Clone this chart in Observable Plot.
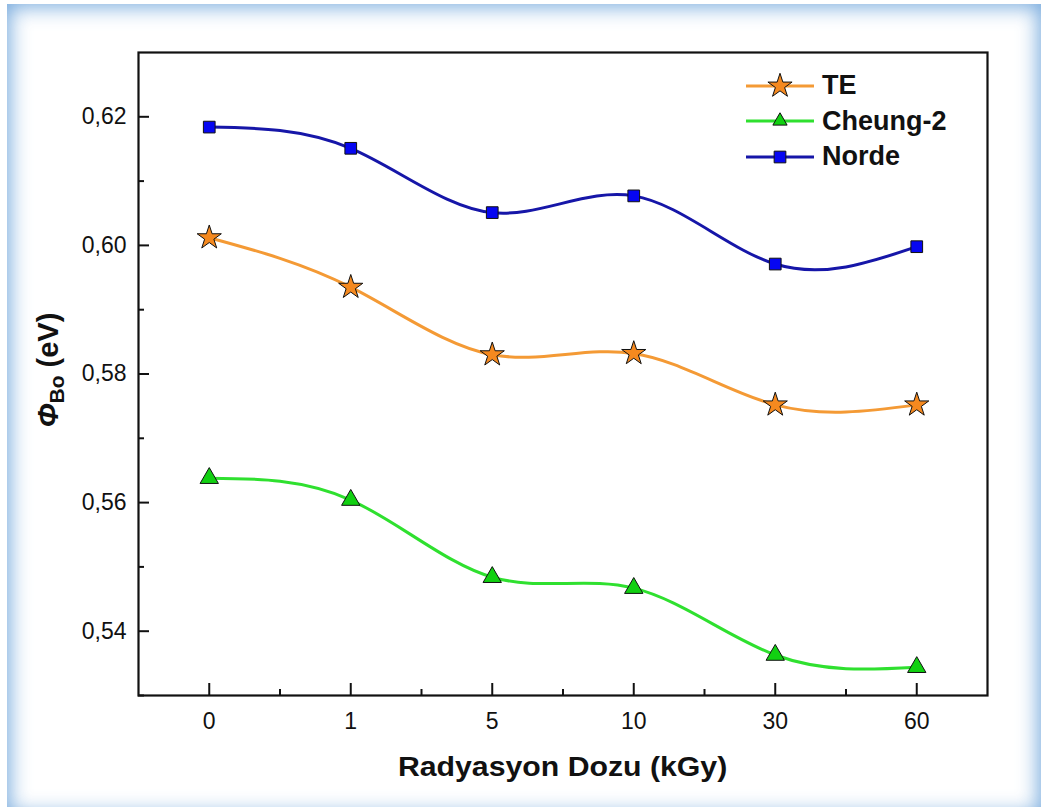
<!DOCTYPE html>
<html>
<head>
<meta charset="utf-8">
<script src="https://cdn.jsdelivr.net/npm/d3@7"></script>
<script src="https://cdn.jsdelivr.net/npm/@observablehq/plot@0.6"></script>
<style>
  html, body { margin: 0; padding: 0; background: #fff; }
  #wrap { position: relative; width: 1044px; height: 807px; overflow: hidden; font-family: "Liberation Sans", Arial, sans-serif; }
  #shade { position: absolute; left: 7px; top: 4px; width: 1034px; height: 812px; box-shadow: inset 0 0 20px 3px rgba(95,155,215,0.85); pointer-events: none; }
  #chart { position: absolute; left: 0; top: 0; }
  #xtitle { position: absolute; left: 138px; width: 849px; top: 752px; text-align: center; font-weight: bold; font-size: 27px; color: #111; transform: scaleX(1.12); transform-origin: 424px 0; }
  #ytitle { position: absolute; left: 50px; top: 370px; transform: translate(-50%, -50%) rotate(-90deg); white-space: nowrap; font-weight: bold; font-size: 29px; color: #111; }
  #ytitle sub { font-size: 21px; vertical-align: -6px; }
  #legend { position: absolute; left: 746px; top: 68px; }
  .row { display: flex; align-items: center; height: 35.5px; }
  .row span { font-weight: bold; font-size: 27px; color: #111; margin-left: 8px; }
  #chart svg text { font-size: 23px; }
</style>
</head>
<body>
<div id="wrap">
  <div id="chart"></div>
  <div id="xtitle">Radyasyon Dozu (kGy)</div>
  <div id="ytitle"><i>Φ</i><sub>Bo</sub> (eV)</div>
  <div id="legend"></div>
  <div id="shade"></div>
</div>
<script>
const doses = ["0", "1", "5", "10", "30", "60"];
const teValues = [0.6012, 0.5935, 0.5830, 0.5832, 0.5752, 0.5752];
const cheungValues = [0.5638, 0.5604, 0.5484, 0.5467, 0.5363, 0.5344];
const nordeValues = [0.6184, 0.6151, 0.6051, 0.6077, 0.5971, 0.5998];
const seriesNames = ["TE", "Cheung-2", "Norde"];
const yTicks = [0.54, 0.56, 0.58, 0.60, 0.62];
const yMinor = [0.53, 0.55, 0.57, 0.59, 0.61];

const styles = {
  "TE": {line: "#f49a35", fill: "#f5891f", symbol: "star", r: 7.6},
  "Cheung-2": {line: "#2fe02f", fill: "#11d011", symbol: "triangle", r: 6.8},
  "Norde": {line: "#1616a8", fill: "#0606f2", symbol: "square", r: 6.6}
};
const valuesBy = {"TE": teValues, "Cheung-2": cheungValues, "Norde": nordeValues};

const data = seriesNames.flatMap(s => valuesBy[s].map((v, i) => ({series: s, i, v})));
const idx = doses.map((d, i) => i);
const xMinor = idx.slice(0, -1).map(i => i + 0.5);

const marks = [];
for (const s of seriesNames) {
  const d = data.filter(e => e.series === s);
  marks.push(Plot.line(d, {x: "i", y: "v", stroke: styles[s].line, strokeWidth: 3, curve: "natural"}));
}
for (const s of seriesNames) {
  const d = data.filter(e => e.series === s);
  marks.push(Plot.dot(d, {x: "i", y: "v", symbol: () => styles[s].symbol, r: styles[s].r, fill: styles[s].fill, stroke: "#111", strokeWidth: 1}));
}

const chart = Plot.plot({
  width: 1044,
  height: 807,
  marginLeft: 138,
  marginRight: 57,
  marginTop: 52,
  marginBottom: 112,
  style: {background: "transparent", fontFamily: "Liberation Sans, Arial, sans-serif", fontSize: "23px", color: "#111"},
  x: {domain: [-0.5, 5.5], axis: null},
  y: {domain: [0.53, 0.63], axis: null},
  symbol: {type: "identity"},
  marks: [
    Plot.axisY(yTicks, {label: null, tickSize: -11, strokeWidth: 2, tickFormat: () => ""}),
    Plot.axisY(yMinor, {label: null, tickSize: -6, strokeWidth: 2, tickFormat: () => ""}),
    Plot.axisY(yTicks, {label: null, tickSize: 0, tickPadding: 12, fontSize: 23, tickFormat: d => d3.format(".2f")(d).replace(".", ",")}),
    Plot.axisX(idx, {label: null, tickSize: -12, strokeWidth: 2, tickFormat: () => ""}),
    Plot.axisX(xMinor, {label: null, tickSize: -6, strokeWidth: 2, tickFormat: () => ""}),
    Plot.axisX(idx, {label: null, tickSize: 0, tickPadding: 17, fontSize: 23, tickFormat: i => doses[i]}),
    ...marks,
    Plot.frame({stroke: "#111", strokeWidth: 2.2})
  ]
});
document.getElementById("chart").appendChild(chart);

// legend
const legend = document.getElementById("legend");
for (const s of seriesNames) {
  const st = styles[s];
  const row = document.createElement("div");
  row.className = "row";
  const w = 68, h = 34;
  const svg = d3.create("svg").attr("width", w).attr("height", h);
  svg.append("line").attr("x1", 0).attr("x2", w).attr("y1", h / 2).attr("y2", h / 2).attr("stroke", st.line).attr("stroke-width", 3);
  const symMap = {star: d3.symbolStar, triangle: d3.symbolTriangle2 || d3.symbolTriangle, square: d3.symbolSquare};
  svg.append("path")
    .attr("d", d3.symbol(symMap[st.symbol], Math.PI * st.r * st.r)())
    .attr("transform", `translate(${w / 2},${h / 2})`)
    .attr("fill", st.fill).attr("stroke", "#111").attr("stroke-width", 1);
  row.appendChild(svg.node());
  const label = document.createElement("span");
  label.textContent = s;
  row.appendChild(label);
  legend.appendChild(row);
}
</script>
</body>
</html>
